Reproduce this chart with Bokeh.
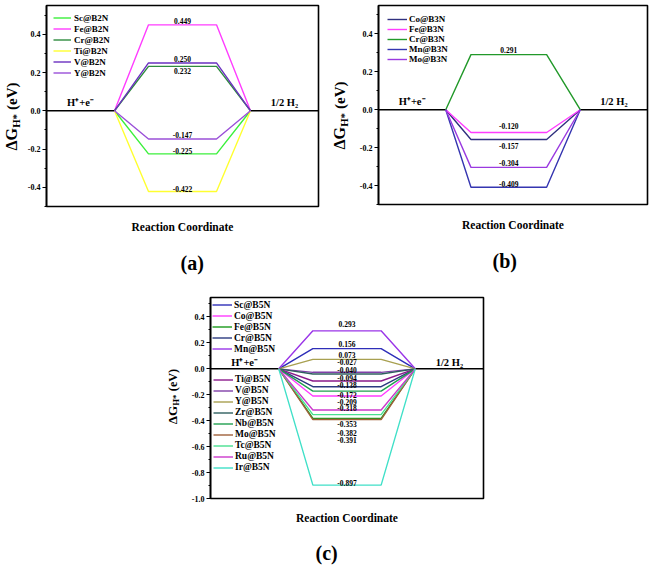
import math
from bokeh.plotting import figure
from bokeh.models import (Range1d, SingleIntervalTicker, FixedTicker, NumeralTickFormatter,
                          Legend, LegendItem, ColumnDataSource, Spacer, Title)
from bokeh.layouts import column, row
from bokeh.core.properties import value
from bokeh.embed import file_html
from bokeh.resources import INLINE

FONT = "Liberation Serif"

# ---------------- data ----------------
# reaction-coordinate stages: initial level, transition, H* plateau, transition, final level
stage_x = [0, 2, 3, 5, 6, 8]
stage_x_b = [0, 2, 2.75, 5, 6, 8]
level_text = ["H\u207a+e\u207b", "1/2 H\u2082"]

a_names = ["Sc@B2N", "Fe@B2N", "Cr@B2N", "Ti@B2N", "V@B2N", "Y@B2N"]
a_values = [-0.225, 0.449, 0.232, -0.422, 0.250, -0.147]
a_colors = ["#3cf03c", "#ff3cff", "#2e8b3e", "#ffff30", "#6a30c0", "#9a50d8"]

b_names = ["Co@B3N", "Fe@B3N", "Cr@B3N", "Mn@B3N", "Mo@B3N"]
b_values = [-0.157, -0.120, 0.291, -0.409, -0.304]
b_colors = ["#30307f", "#ff3cff", "#22992a", "#3535b0", "#9a3ae0"]

c_names_top = ["Sc@B5N", "Co@B5N", "Fe@B5N", "Cr@B5N", "Mn@B5N"]
c_values_top = [0.156, -0.209, -0.382, -0.138, 0.293]
c_colors_top = ["#2e2eb8", "#ff3cff", "#1a9a1a", "#2c3a80", "#9a35e8"]

c_names_bottom = ["Ti@B5N", "V@B5N", "Y@B5N", "Zr@B5N", "Nb@B5N", "Mo@B5N",
                  "Tc@B5N", "Ru@B5N", "Ir@B5N"]
c_values_bottom = [-0.094, -0.027, 0.073, -0.040, -0.172, -0.391, -0.353, -0.318, -0.897]
c_colors_bottom = ["#8b1a8b", "#8040a8", "#a8a050", "#2f5f5f", "#20a050", "#a0603a",
                   "#48e090", "#cc38cc", "#40e0c8"]

# label nudges (px, positive = up) to keep value labels readable
a_nudge = [3.3, 3.6, -4.7, 3.0, 3.8, 4.0]
b_nudge = [-6.3, 6.7, 5.0, 3.4, 4.7]
c_nudge_top = [4.7, -5.9, -14.3, 2.0, 6.9]
c_nudge_bottom = [3.3, 10.5, 4.6, 4.2, -3.6, -20.0, -9.1, 2.3, 2.6]


def make_ylabel(width, height, cx, center_from_top, size):
    """Narrow canvas carrying the rotated y-axis title  ΔG_H* (eV)."""
    p = figure(frame_width=width, frame_height=height, x_range=Range1d(0, width),
               y_range=Range1d(0, height), output_backend="svg", toolbar_location=None,
               min_border_left=0, min_border_right=0, min_border_top=0, min_border_bottom=0,
               x_axis_location=None, y_axis_location=None)
    p.grid.visible = False
    p.outline_line_color = None
    p.background_fill_color = "white"
    p.border_fill_color = "white"
    f1, f2, f3 = size, 0.68 * size, 0.94 * size
    w1, w2, w3 = 1.42 * f1, 1.28 * f2, 1.83 * f3
    gap = 0.25 * size
    total = w1 + w2 + gap + w3
    s = (height - center_from_top) - total / 2
    pieces = [("\u0394G", cx, s, f1), ("H*", cx + 0.3 * size, s + w1, f2),
              ("(eV)", cx, s + w1 + w2 + gap, f3)]
    for txt, x, y, fs in pieces:
        p.text(x=[x], y=[y], text=[txt], angle=math.pi / 2, text_font=value(FONT),
               text_font_style="bold", text_font_size="%.1fpx" % fs, text_align="left",
               text_baseline="middle", text_color="black")
    return p


def make_panel(tag, groups, stages, y_start, frame_w, frame_h, mb, tag_offset, tag_standoff,
               xlab_standoff, level_dy):
    p = figure(frame_width=frame_w, frame_height=frame_h,
               x_range=Range1d(stages[0], stages[-1]), y_range=Range1d(y_start, 0.55),
               output_backend="svg", toolbar_location=None,
               min_border_left=mb[0], min_border_right=mb[1],
               min_border_top=mb[2], min_border_bottom=mb[3])
    p.grid.visible = False
    p.outline_line_color = "black"
    p.outline_line_width = 1.6
    p.outline_line_alpha = 1.0
    p.background_fill_color = "white"
    p.border_fill_color = "white"

    yax = p.yaxis[0]
    yax.ticker = SingleIntervalTicker(interval=0.2, num_minor_ticks=2)
    yax.formatter = NumeralTickFormatter(format="0.0")
    yax.major_label_text_font = FONT
    yax.major_label_text_font_style = "bold"
    yax.major_label_text_font_size = "8px"
    yax.major_label_text_color = "black"
    yax.major_label_standoff = 2
    yax.major_tick_out = 4
    yax.major_tick_in = 0
    yax.minor_tick_out = 2
    yax.minor_tick_in = 0
    yax.axis_line_width = 1.6
    yax.major_tick_line_width = 1.2
    yax.minor_tick_line_width = 1.2

    xax = p.xaxis[0]
    xax.ticker = FixedTicker(ticks=[], minor_ticks=[])
    xax.axis_line_color = None
    xax.major_tick_line_color = None
    xax.minor_tick_line_color = None
    xax.major_tick_out = 0
    xax.major_label_standoff = 0
    xax.axis_label = "Reaction Coordinate"
    xax.axis_label_standoff = xlab_standoff
    xax.axis_label_text_font = FONT
    xax.axis_label_text_font_style = "bold"
    xax.axis_label_text_font_size = "11.5px"
    xax.axis_label_text_color = "black"

    p.add_layout(Title(text=tag, align="left", offset=tag_offset, standoff=tag_standoff,
                       text_font=FONT, text_font_style="bold", text_font_size="20px",
                       text_color="black"), "below")

    # initial and final levels
    p.line(x=stages[0:2], y=[0, 0], line_color="black", line_width=1.6)
    p.line(x=stages[4:6], y=[0, 0], line_color="black", line_width=1.6)
    mid_x = (stages[2] + stages[3]) / 2
    p.text(x=[(stages[0] + stages[1]) / 2, (stages[4] + stages[5]) / 2], y=[0, 0],
           text=level_text, y_offset=level_dy, text_font=value(FONT),
           text_font_style="bold", text_font_size="10.5px", text_align="center",
           text_baseline="middle", text_color="black")

    for (names, values, colors, nudges, lspec) in groups:
        items = []
        for name, v, col in zip(names, values, colors):
            r = p.line(x=stages[1:5], y=[0, v, v, 0], line_color=col, line_width=1.4)
            items.append(LegendItem(label=name, renderers=[r]))
        src = ColumnDataSource(dict(x=[mid_x] * len(values), y=values,
                                    t=["%.3f" % v for v in values],
                                    dy=[-n for n in nudges]))
        p.text(x="x", y="y", text="t", y_offset="dy", source=src, text_font=value(FONT),
               text_font_style="bold", text_font_size="7.5px", text_align="center",
               text_baseline="middle", text_color="black")
        leg = Legend(items=items, location=lspec["loc"], margin=lspec["margin"],
                     padding=lspec["padding"], spacing=lspec["sp"],
                     glyph_width=lspec["gw"], glyph_height=lspec["h"],
                     label_height=lspec["h"], label_standoff=lspec["standoff"],
                     label_text_font=FONT, label_text_font_style="bold",
                     label_text_font_size=lspec["fs"], label_text_color="black",
                     background_fill_alpha=0, border_line_alpha=0)
        p.add_layout(leg)
    return p


leg_a = dict(loc="top_left", margin=4, padding=3, gw=18, h=11, sp=0, standoff=3, fs="9px")
leg_b = dict(loc="top_left", margin=5, padding=4, gw=20, h=10, sp=0, standoff=2, fs="9px")
leg_c1 = dict(loc="top_left", margin=0, padding=2, gw=20, h=11, sp=0, standoff=2, fs="9.5px")
leg_c2 = dict(loc=(2, 24.5), margin=0, padding=1, gw=20, h=11, sp=0, standoff=2, fs="9.5px")

ROW1_H = 289
ROW2_H = 282

ylab_a = make_ylabel(22, ROW1_H, 11, 111, 16)
fig_a = make_panel("(a)", [(a_names, a_values, a_colors, a_nudge, leg_a)], stage_x, -0.5,
                   272, 201, (24, 8, 3, 85), 134, 28, 14, -8)
ylab_b = make_ylabel(26, ROW1_H, 13, 110, 16)
fig_b = make_panel("(b)", [(b_names, b_values, b_colors, b_nudge, leg_b)], stage_x_b, -0.5,
                   269, 199, (26, 5, 5, 85), 114, 28, 14, -8)
ylab_c = make_ylabel(24, ROW2_H, 12, 99, 13)
fig_c = make_panel("(c)", [(c_names_top, c_values_top, c_colors_top, c_nudge_top, leg_c1),
                           (c_names_bottom, c_values_bottom, c_colors_bottom, c_nudge_bottom,
                            leg_c2)],
                   stage_x, -1.0, 273, 201, (26, 10, 8, 73), 105, 27, 13, -6)

layout = column(row(ylab_a, fig_a, ylab_b, fig_b),
                row(Spacer(width=160, height=10), ylab_c, fig_c))

with open("out.html", "w") as f:
    f.write(file_html(layout, INLINE))
